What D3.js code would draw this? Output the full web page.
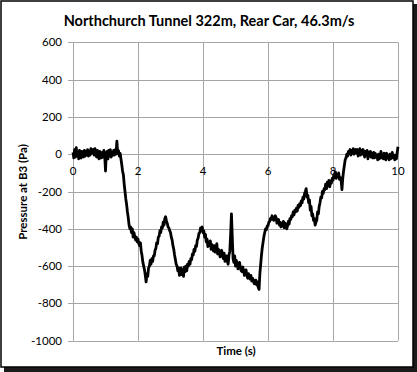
<!DOCTYPE html>
<html>
<head>
<meta charset="utf-8">
<script src="https://cdn.jsdelivr.net/npm/d3@7"></script>
<style>
  body { margin: 0; background: #fff; }
  svg { display: block; font-family: Lato, "Open Sans", sans-serif; }
</style>
</head>
<body>
<div id="chart"></div>
<script>
// Chart text
const chartTitle = 'Northchurch Tunnel 322m, Rear Car, 46.3m/s';
const xLabel = 'Time (s)';
const yLabel = 'Pressure at B3 (Pa)';

// Axis ticks
const xTicks = [0, 2, 4, 6, 8, 10];
const yTicks = [600, 400, 200, 0, -200, -400, -600, -800, -1000];

// Sample interval of the trace (s)
const sampleStep = 0.025;

// Pressure at B3 (Pa), every 0.025 s from 0 to 10 s
// (one row = 0.25 s)
const pressure = [
  10, -20, 25, -15, 35, -10, 5, -25, 20, -10,
  -20, 15, 5, -15, 20, -10, 15, -5, 25, -10,
  15, -5, 30, 5, 10, 25, -5, 30, 5, -15,
  20, -10, -25, 15, 5, -20, 10, -15, 20, -5,
  -90, 5, 15, -25, 20, -10, 25, -15, 10, -5,
  20, -5, 25, 0, 70, 5, 20, -10, 5, -25,
  -55, -90, -110, -160, -200, -240, -270, -310, -340, -380,
  -400, -390, -420, -400, -445, -420, -440, -460, -445, -470,
  -455, -480, -490, -475, -520, -545, -580, -600, -620, -650,
  -685, -640, -655, -610, -600, -570, -590, -560, -575, -545,
  -545, -515, -505, -475, -480, -445, -440, -410, -420, -390,
  -395, -365, -380, -345, -335, -360, -370, -390, -395, -410,
  -420, -445, -460, -490, -510, -540, -565, -590, -600, -625,
  -610, -650, -630, -610, -645, -620, -655, -605, -630, -600,
  -625, -590, -600, -575, -590, -560, -565, -535, -540, -510,
  -520, -490, -495, -460, -450, -425, -420, -395, -400, -390,
  -420, -410, -445, -430, -470, -455, -495, -470, -490, -465,
  -510, -485, -500, -520, -490, -525, -505, -480, -535, -510,
  -520, -550, -535, -515, -545, -560, -530, -575, -555, -545,
  -575, -590, -540, -520, -430, -320, -440, -560, -580, -545,
  -600, -570, -585, -615, -600, -580, -610, -625, -630, -605,
  -625, -650, -640, -620, -650, -665, -640, -655, -670, -650,
  -680, -665, -675, -695, -690, -675, -700, -685, -715, -725,
  -640, -590, -540, -500, -470, -440, -420, -400, -405, -385,
  -385, -365, -360, -345, -350, -330, -340, -355, -345, -330,
  -340, -370, -360, -350, -380, -365, -390, -370, -385, -360,
  -395, -370, -380, -400, -385, -360, -375, -345, -350, -330,
  -335, -310, -325, -300, -310, -290, -305, -275, -285, -265,
  -275, -250, -260, -230, -240, -210, -200, -185, -230, -220,
  -260, -245, -300, -280, -330, -320, -355, -345, -380, -365,
  -355, -310, -320, -280, -260, -230, -235, -200, -210, -185,
  -190, -160, -185, -150, -170, -140, -175, -145, -155, -130,
  -140, -110, -125, -95, -130, -110, -120, -100, -135, -125,
  -140, -190, -130, -90, -60, -30, -20, 0, -10, 15,
  10, 25, -5, 20, 5, 30, 0, 15, 25, 5,
  25, -10, 15, 30, -5, 20, 0, 25, 10, -15,
  15, -5, 20, -25, 10, -10, 15, -15, 5, -20,
  10, -20, 5, -15, -5, -30, 0, -25, -10, 15,
  -20, 0, -25, 5, -15, -30, 5, -20, -10, -30,
  0, -25, -10, 10, -20, -5, -30, -5, -25, 10,
  40
];

const width = 417, height = 372;
const plot = { left: 73, right: 398, top: 42.3, bottom: 340.7 };

const svg = d3.select('#chart')
  .append('svg')
  .attr('width', width)
  .attr('height', height);

// Chart frame with its shadow
svg.append('rect')
  .attr('x', 4).attr('y', 4)
  .attr('width', 413).attr('height', 368)
  .attr('fill', '#1a1a1a');
svg.append('rect')
  .attr('x', 1).attr('y', 1)
  .attr('width', 412).attr('height', 366)
  .attr('fill', '#fff')
  .attr('stroke', '#000')
  .attr('stroke-width', 1.5);

const x = d3.scaleLinear().domain([0, 10]).range([plot.left, plot.right]);
const y = d3.scaleLinear().domain([-1000, 600]).range([plot.bottom, plot.top]);

// Gridlines
svg.append('g')
  .selectAll('line')
  .data(yTicks)
  .enter().append('line')
  .attr('x1', plot.left - 5)
  .attr('x2', plot.right)
  .attr('y1', d => Math.round(y(d)) + 0.5)
  .attr('y2', d => Math.round(y(d)) + 0.5)
  .attr('stroke', '#a6a6a6');

svg.append('g')
  .selectAll('line')
  .data(xTicks)
  .enter().append('line')
  .attr('x1', d => Math.round(x(d)) + 0.5)
  .attr('x2', d => Math.round(x(d)) + 0.5)
  .attr('y1', plot.top)
  .attr('y2', plot.bottom)
  .attr('stroke', '#a6a6a6');

// Y tick labels
svg.append('g')
  .selectAll('text')
  .data(yTicks)
  .enter().append('text')
  .attr('x', 62)
  .attr('y', d => y(d))
  .attr('dy', '0.35em')
  .attr('text-anchor', 'end')
  .style('font-size', '11.5px')
  .style('fill', '#000')
  .text(d => d);

// X tick labels, sitting under the zero line
svg.append('g')
  .selectAll('text')
  .data(xTicks)
  .enter().append('text')
  .attr('x', d => x(d))
  .attr('y', y(0) + 21)
  .attr('text-anchor', 'middle')
  .style('font-size', '11.5px')
  .style('fill', '#000')
  .text(d => d);

// Pressure trace
const line = d3.line()
  .x((d, i) => x(i * sampleStep))
  .y(d => y(d));

svg.append('path')
  .datum(pressure)
  .attr('d', line)
  .attr('fill', 'none')
  .attr('stroke', '#000')
  .attr('stroke-width', 2.8)
  .attr('stroke-linejoin', 'round');

// Titles
svg.append('text')
  .attr('x', 209)
  .attr('y', 26)
  .attr('text-anchor', 'middle')
  .style('font-size', '14.5px')
  .style('font-weight', 'bold')
  .text(chartTitle);

svg.append('text')
  .attr('x', 236)
  .attr('y', 355)
  .attr('text-anchor', 'middle')
  .style('font-size', '11.5px')
  .style('font-weight', 'bold')
  .text(xLabel);

svg.append('text')
  .attr('transform', 'translate(27,192) rotate(-90)')
  .attr('text-anchor', 'middle')
  .style('font-size', '11.5px')
  .style('font-weight', 'bold')
  .text(yLabel);
</script>
</body>
</html>
